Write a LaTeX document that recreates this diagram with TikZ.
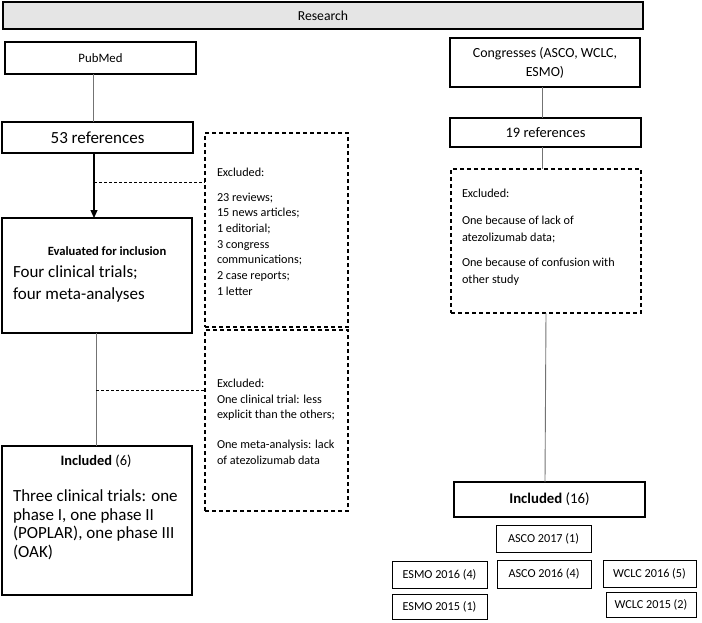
\documentclass[tikz,border=0pt]{standalone}
\usepackage{fontspec}
\setmainfont{Carlito}
\usetikzlibrary{arrows.meta}
\begin{document}
\begin{tikzpicture}[x=1pt,y=-1pt,
  every node/.style={inner sep=0pt, outer sep=0pt},
  thickbox/.style={draw, line width=2pt, anchor=north west},
  thinbox/.style={draw, line width=1.2pt, anchor=north west},
  dashbox/.style={draw, line width=1.1pt, dash pattern=on 4pt off 3pt, anchor=north west},
  smallbox/.style={draw, line width=1pt, anchor=north west, font=\fontsize{12.2}{14}\selectfont},
  conn/.style={draw=black!55, line width=0.9pt},
  dconn/.style={draw=black, line width=0.7pt, dash pattern=on 3pt off 2pt},
  arr/.style={draw=black, line width=1.2pt, -{Triangle[length=8pt,width=7pt]}},
  small/.style={font=\fontsize{12.2}{15.7}\selectfont, align=left, anchor=north west},
  big/.style={font=\fontsize{17}{19}\selectfont, align=left, anchor=north west}
]
\useasboundingbox (0,0) rectangle (702,622);

% top
\node[draw, line width=1.2pt, fill=black!10, anchor=north west, minimum width=640pt, minimum height=27pt,
      font=\fontsize{13.7}{16}\selectfont] (res) at (3,2) {Research};

% left column
\node[thickbox, minimum width=191pt, minimum height=32pt, font=\fontsize{12.8}{15}\selectfont] (pub) at (5,42) {PubMed};
\node[thinbox, minimum width=191pt, minimum height=31pt, font=\fontsize{17}{19}\selectfont] (r53) at (2,122) {53 references};
\node[thinbox, minimum width=190pt, minimum height=115pt] (eval) at (2,218) {};
\node[dashbox, minimum width=143pt, minimum height=194pt] (ex1) at (205,133) {};
\node[dashbox, minimum width=143pt, minimum height=181pt] (ex2) at (205,330) {};
\node[thickbox, minimum width=190pt, minimum height=149pt] (inc6) at (2,446) {};

\node[font=\bfseries\fontsize{12.6}{15}\selectfont] (evalh) at (107,251) {Evaluated for inclusion};
\node[big, font=\fontsize{17}{22}\selectfont] (evalt) at (13,266) {Four clinical trials;\\four meta-analyses};

\node[small] (ex1t) at (217,168) {Excluded:\\[9pt]23 reviews;\\15 news articles;\\1 editorial;\\3 congress\\communications;\\2 case reports;\\1 letter};
\node[small] (ex2t) at (217,379) {Excluded:\\One clinical trial: less\\explicit than the others;\\[14pt]One meta-analysis: lack\\of atezolizumab data};

\node[font=\fontsize{14.4}{17}\selectfont] (inc6h) at (96,461) {\textbf{Included} (6)};
\node[big, font=\fontsize{17}{18.5}\selectfont] (inc6t) at (13,490) {Three clinical trials: one\\phase I, one phase II\\(POPLAR), one phase III\\(OAK)};

% right column
\node[thickbox, minimum width=190pt, minimum height=49pt, align=center, font=\fontsize{13.9}{19}\selectfont] (cong) at (450,38) {Congresses (ASCO, WCLC,\\ESMO)};
\node[thinbox, minimum width=191pt, minimum height=29pt, font=\fontsize{14.5}{17}\selectfont] (r19) at (450,118) {19 references};
\node[dashbox, minimum width=190pt, minimum height=144pt] (exr) at (451,169) {};
\node[small, font=\fontsize{12.2}{16.5}\selectfont] (exrt) at (462,189) {Excluded:\\[11pt]One because of lack of\\atezolizumab data;\\[9pt]One because of confusion with\\other study};
\node[thickbox, minimum width=191pt, minimum height=35pt, font=\fontsize{14.8}{17}\selectfont] (inc16) at (454,482) {\textbf{Included} (16)};

\node[smallbox, minimum width=95pt, minimum height=27pt] (a17) at (496,525) {ASCO 2017 (1)};
\node[smallbox, minimum width=95pt, minimum height=27pt] (e16) at (392,561) {ESMO 2016 (4)};
\node[smallbox, minimum width=94pt, minimum height=28pt] (a16) at (497,560) {ASCO 2016 (4)};
\node[smallbox, minimum width=93pt, minimum height=27pt] (w16) at (603,560) {WCLC 2016 (5)};
\node[smallbox, minimum width=95pt, minimum height=25pt] (e15) at (392,594) {ESMO 2015 (1)};
\node[smallbox, minimum width=90pt, minimum height=25pt] (w15) at (606,592) {WCLC 2015 (2)};

% connectors
\coordinate (j1) at (94,182);
\coordinate (j2) at (96,390);
\draw[conn] (pub.south -| 93,0) -- (r53.north -| 93,0);
\draw[arr] (r53.south -| 94,0) -- (eval.north -| 94,0);
\draw[dconn] (j1) -- (j1 -| ex1.west);
\draw[conn] (eval.south -| 96,0) -- (inc6.north -| 96,0);
\draw[dconn] (j2) -- (j2 -| ex2.west);

\draw[conn] (cong.south -| 542,0) -- (r19.north -| 542,0);
\draw[conn] (r19.south -| 542,0) -- (exr.north -| 542,0);
\draw[conn] (exr.south -| 546,0) -- (inc16.north -| 545,0);
\end{tikzpicture}
\end{document}
